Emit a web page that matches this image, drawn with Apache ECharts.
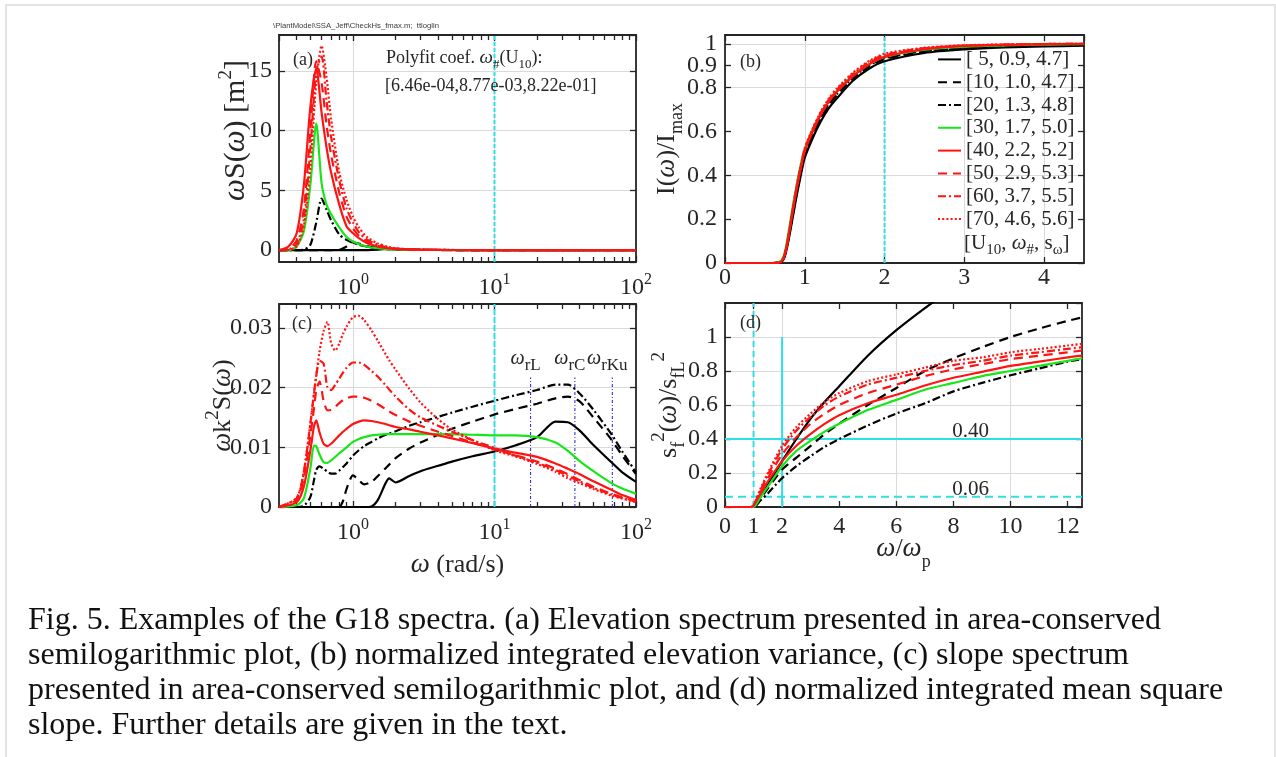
<!DOCTYPE html>
<html>
<head>
<meta charset="utf-8">
<script src="https://cdn.jsdelivr.net/npm/echarts@6.0.0/dist/echarts.min.js"></script>
<style>
  html, body { margin: 0; padding: 0; background: #ffffff; }
  #chart { width: 1276px; height: 757px; }
</style>
</head>
<body>
<div id="chart"></div>
<script>
// ---------- wind cases [U10, omega#, s_omega] ----------
const CASES = ['[ 5, 0.9, 4.7]', '[10, 1.0, 4.7]', '[20, 1.3, 4.8]', '[30, 1.7, 5.0]',
               '[40, 2.2, 5.2]', '[50, 2.9, 5.3]', '[60, 3.7, 5.5]', '[70, 4.6, 5.6]'];

// ---------- (a) elevation spectrum  omega*S(omega) [m^2] ----------
const A_W   = [0.3, 0.35, 0.4, 0.45, 0.5, 0.55, 0.6, 0.65, 0.7, 0.8, 0.9, 1.0, 1.1, 1.25, 1.5, 1.75, 2, 2.5, 3, 4, 6, 10, 100];
const A_U5  = [0, 0, 0, 0, 0, 0, 0, 0, 0, 0, 0, 0, 0, 0, 0.03, 0.12, 0.1, 0.05, 0.025, 0.01, 0.002, 0, 0];
const A_U10 = [0, 0, 0, 0, 0, 0, 0, 0, 0, 0.02, 0.3, 0.62, 0.55, 0.33, 0.15, 0.07, 0.04, 0.015, 0.007, 0.002, 0, 0, 0];
const A_U20 = [0, 0, 0, 0.03, 0.45, 2.3, 4.3, 3.4, 2.5, 1.3, 0.85, 0.6, 0.45, 0.3, 0.16, 0.09, 0.05, 0.02, 0.01, 0.004, 0.001, 0, 0];
const A_U30 = [0, 0, 0.3, 1.6, 5.5, 10.6, 5.6, 3.8, 3.0, 1.9, 1.1, 0.72, 0.5, 0.3, 0.15, 0.08, 0.05, 0.02, 0.01, 0.003, 0, 0, 0];
const A_U40 = [0, 0.3, 1.4, 5.5, 12, 15.2, 11.5, 8.6, 6.5, 3.8, 2.0, 1.4, 1.0, 0.6, 0.3, 0.15, 0.09, 0.04, 0.02, 0.008, 0.002, 0, 0];
const A_U50 = [0, 0.1, 0.8, 3.5, 10, 15.8, 14, 10.5, 8, 4.8, 2.8, 1.8, 1.2, 0.75, 0.35, 0.18, 0.1, 0.05, 0.025, 0.01, 0.003, 0.001, 0];
const A_U60 = [0, 0.05, 0.5, 2.6, 8.5, 15, 16.2, 12.5, 9.5, 5.8, 3.5, 2.3, 1.5, 0.9, 0.45, 0.22, 0.12, 0.06, 0.03, 0.012, 0.003, 0.001, 0];
const A_U70 = [0, 0.02, 0.3, 2.0, 7, 14, 17.1, 14.5, 11, 6.5, 4.2, 2.8, 1.9, 1.1, 0.55, 0.28, 0.15, 0.07, 0.035, 0.014, 0.004, 0.001, 0];
const A_YLIM = [-1, 18];
const A_MARK = 10;

// ---------- (b) normalized integrated elevation variance ----------
const B_X   = [0, 0.6, 0.7, 0.75, 0.8, 0.85, 0.9, 0.95, 1.0, 1.1, 1.2, 1.3, 1.4, 1.6, 1.8, 2.0, 2.5, 3.0, 3.5, 4.0, 4.5];
const B_U5  = [0, 0, 0.003, 0.03, 0.11, 0.21, 0.31, 0.40, 0.48, 0.57, 0.645, 0.705, 0.75, 0.83, 0.885, 0.92, 0.958, 0.974, 0.983, 0.988, 0.991];
const B_U10 = [0, 0, 0.004, 0.035, 0.12, 0.22, 0.32, 0.41, 0.49, 0.585, 0.66, 0.72, 0.765, 0.84, 0.895, 0.93, 0.964, 0.979, 0.987, 0.992, 0.995];
const B_U20 = [0, 0, 0.004, 0.04, 0.125, 0.225, 0.325, 0.415, 0.495, 0.59, 0.665, 0.725, 0.77, 0.845, 0.9, 0.934, 0.967, 0.982, 0.989, 0.994, 0.996];
const B_U30 = [0, 0, 0.01, 0.05, 0.15, 0.26, 0.36, 0.45, 0.52, 0.61, 0.68, 0.74, 0.785, 0.855, 0.905, 0.94, 0.973, 0.987, 0.993, 0.996, 0.998];
const B_U40 = [0, 0, 0.005, 0.04, 0.13, 0.24, 0.34, 0.43, 0.51, 0.60, 0.675, 0.735, 0.78, 0.85, 0.905, 0.94, 0.975, 0.99, 0.995, 0.998, 1.0];
const B_U50 = [0, 0, 0.005, 0.04, 0.13, 0.24, 0.345, 0.435, 0.515, 0.605, 0.68, 0.74, 0.785, 0.857, 0.91, 0.945, 0.978, 0.991, 0.996, 0.998, 1.0];
const B_U60 = [0, 0, 0.005, 0.04, 0.13, 0.245, 0.35, 0.44, 0.52, 0.61, 0.685, 0.745, 0.79, 0.862, 0.915, 0.95, 0.98, 0.992, 0.996, 0.999, 1.0];
const B_U70 = [0, 0, 0.005, 0.04, 0.135, 0.25, 0.355, 0.445, 0.525, 0.615, 0.69, 0.75, 0.795, 0.867, 0.92, 0.955, 0.982, 0.993, 0.997, 0.999, 1.0];
const B_YLIM = [0, 1.04];
const B_YTICKS = [0, 0.2, 0.4, 0.6, 0.8, 0.9, 1];
const B_YTICKS_MAIN = [0, 0.2, 0.4, 0.6, 0.8, 1];
const B_YTICKS_EXTRA = [0.9];
const B_MARK = 2;

// ---------- (c) slope spectrum  omega*k^2*S(omega) ----------
const C_W   = [0.3, 0.4, 0.45, 0.5, 0.53, 0.55, 0.58, 0.62, 0.66, 0.7, 0.75, 0.8, 0.85, 0.9, 1.0, 1.1, 1.2, 1.35, 1.5, 1.7,
               1.8, 2.0, 2.5, 3, 4, 5, 7, 10, 14, 20, 27, 33, 40, 50, 67, 80, 100];
const C_U5  = [0, 0, 0, 0, 0, 0, 0, 0, 0, 0, 0, 0, 0, 0, 0, 0, 0, 0.0001, 0.0012, 0.0040,
               0.0048, 0.0041, 0.0052, 0.0060, 0.0069, 0.0076, 0.0085, 0.0093, 0.0103, 0.0117, 0.0143, 0.0142, 0.0128, 0.0104, 0.0075, 0.0058, 0.0042];
const C_U10 = [0, 0, 0, 0, 0, 0, 0, 0, 0, 0, 0, 0, 0.0010, 0.0030, 0.0053, 0.0045, 0.0038, 0.0042, 0.0052, 0.0065,
               0.0071, 0.0082, 0.0098, 0.0108, 0.0121, 0.0131, 0.0143, 0.0155, 0.0164, 0.0173, 0.0182, 0.0185, 0.0177, 0.0150, 0.0113, 0.0086, 0.0055];
const C_U20 = [0, 0, 0.0002, 0.0017, 0.0045, 0.0062, 0.0068, 0.0064, 0.0059, 0.0056, 0.0056, 0.0061, 0.0067, 0.0073, 0.0086, 0.0095, 0.0102, 0.0109, 0.0115, 0.0121,
               0.0123, 0.0127, 0.0136, 0.0142, 0.0151, 0.0158, 0.0168, 0.0178, 0.0187, 0.0196, 0.0205, 0.0205, 0.0190, 0.0163, 0.0122, 0.0093, 0.0058];
const C_U30 = [0, 0.0003, 0.0015, 0.0065, 0.0103, 0.0102, 0.0088, 0.0075, 0.0074, 0.0078, 0.0084, 0.0090, 0.0095, 0.0100, 0.0109, 0.0114, 0.0117, 0.0120, 0.0121, 0.0122,
               0.0122, 0.0122, 0.0122, 0.0122, 0.0122, 0.0122, 0.0121, 0.0120, 0.0120, 0.0117, 0.0108, 0.0094, 0.0077, 0.0060, 0.0040, 0.0031, 0.0022];
const C_U40 = [0, 0.0008, 0.0035, 0.0095, 0.0135, 0.0145, 0.0125, 0.0106, 0.0102, 0.0106, 0.0113, 0.0120, 0.0126, 0.0131, 0.0139, 0.0143, 0.0145, 0.0144, 0.0142, 0.0139,
               0.0137, 0.0134, 0.0130, 0.0126, 0.0120, 0.0115, 0.0107, 0.0098, 0.0091, 0.0084, 0.0073, 0.0064, 0.0055, 0.0043, 0.0029, 0.0020, 0.0012];
const C_U50 = [0, 0.0012, 0.0050, 0.0120, 0.0165, 0.0195, 0.0210, 0.0178, 0.0162, 0.0163, 0.0168, 0.0174, 0.0179, 0.0182, 0.0185, 0.0185, 0.0183, 0.0178, 0.0172, 0.0164,
               0.0160, 0.0154, 0.0143, 0.0136, 0.0126, 0.0119, 0.0108, 0.0097, 0.0087, 0.0076, 0.0064, 0.0055, 0.0045, 0.0034, 0.0022, 0.0016, 0.0010];
const C_U60 = [0, 0.0015, 0.0060, 0.0140, 0.0190, 0.0220, 0.0245, 0.0240, 0.0200, 0.0196, 0.0205, 0.0215, 0.0225, 0.0233, 0.0242, 0.0242, 0.0238, 0.0228, 0.0218, 0.0204,
               0.0197, 0.0185, 0.0163, 0.0150, 0.0136, 0.0126, 0.0112, 0.0099, 0.0086, 0.0074, 0.0062, 0.0052, 0.0043, 0.0032, 0.0021, 0.0015, 0.0009];
const C_U70 = [0, 0.0015, 0.0060, 0.0140, 0.0190, 0.0220, 0.0260, 0.0295, 0.0310, 0.0275, 0.0262, 0.0274, 0.0290, 0.0302, 0.0318, 0.0320, 0.0313, 0.0296, 0.0278, 0.0256,
               0.0246, 0.0230, 0.0198, 0.0175, 0.0147, 0.0130, 0.0112, 0.0095, 0.0085, 0.0072, 0.0059, 0.0048, 0.0040, 0.0030, 0.0019, 0.0014, 0.0008];
const C_YLIM = [0, 0.034];
const C_MARK = 10;
const C_RES = [18, 37, 68];            // radar frequencies omega_rL, omega_rC, omega_rKu
const C_RES_NAMES = ['rL', 'rC', 'rKu'];
const C_RES_TOP = 0.0217;

// ---------- (d) normalized integrated mean square slope ----------
const D_X   = [0, 0.9, 1.0, 1.25, 1.5, 2, 2.5, 3, 3.5, 4, 5, 6, 7, 8, 9, 10, 11, 12, 12.5];
const D_U5  = [0, 0, 0, 0.06, 0.13, 0.27, 0.40, 0.52, 0.62, 0.71, 0.89, 1.04, 1.17, 1.29, null, null, null, null, null];
const D_U10 = [0, 0, 0, 0.05, 0.11, 0.22, 0.29, 0.36, 0.43, 0.49, 0.60, 0.70, 0.80, 0.875, 0.94, 1.0, 1.05, 1.095, 1.115];
const D_U20 = [0, 0, 0, 0.04, 0.08, 0.17, 0.24, 0.30, 0.355, 0.40, 0.48, 0.55, 0.61, 0.68, 0.73, 0.775, 0.815, 0.855, 0.87];
const D_U30 = [0, 0, 0, 0.06, 0.12, 0.24, 0.33, 0.39, 0.445, 0.49, 0.57, 0.63, 0.69, 0.73, 0.77, 0.80, 0.83, 0.86, 0.875];
const D_U40 = [0, 0, 0.01, 0.08, 0.15, 0.27, 0.36, 0.43, 0.49, 0.54, 0.61, 0.66, 0.715, 0.76, 0.795, 0.83, 0.855, 0.88, 0.89];
const D_U50 = [0, 0, 0.01, 0.09, 0.17, 0.31, 0.41, 0.49, 0.55, 0.60, 0.67, 0.72, 0.77, 0.81, 0.84, 0.87, 0.89, 0.91, 0.92];
const D_U60 = [0, 0, 0.01, 0.10, 0.19, 0.34, 0.45, 0.53, 0.60, 0.65, 0.72, 0.76, 0.80, 0.835, 0.86, 0.89, 0.91, 0.93, 0.94];
const D_U70 = [0, 0, 0.01, 0.11, 0.20, 0.36, 0.47, 0.55, 0.62, 0.67, 0.74, 0.78, 0.82, 0.86, 0.88, 0.91, 0.93, 0.95, 0.96];
const D_XLIM = [0, 12.5];
const D_YLIM = [0, 1.2];
const D_XTICKS = [0, 1, 2, 4, 6, 8, 10, 12];
const D_VDASH = 1;      // omega/omega_p = 1
const D_VSOLID = 2;     // omega/omega_p = 2
const D_VSOLID_TOP = 1.0;
const D_LEVELS = [0.40, 0.06];

const LOG_MINOR = [0.4, 0.5, 0.6, 0.7, 0.8, 0.9, 2, 3, 4, 5, 6, 7, 8, 9, 20, 30, 40, 50, 60, 70, 80, 90];

const CAPTION = [
  'Fig. 5. Examples of the G18 spectra. (a) Elevation spectrum presented in area-conserved',
  'semilogarithmic plot, (b) normalized integrated elevation variance, (c) slope spectrum',
  'presented in area-conserved semilogarithmic plot, and (d) normalized integrated mean square',
  'slope. Further details are given in the text.'
];

// ---------- styling ----------
const FONT = '"Liberation Serif", "Times New Roman", Times, serif';
const INK = '#262626';
const GRIDC = '#dadada';
const NONE = 'rgba(0,0,0,0)';
const RED = '#ff1414';
const GREEN = '#18e618';
const CYAN = '#2ddfe6';
const BLUE = '#2020c8';
const STYLES = [
  { color: '#000000', type: 'solid' },
  { color: '#000000', type: [9, 6] },
  { color: '#000000', type: [8, 3, 2, 3] },
  { color: GREEN, type: 'solid' },
  { color: RED, type: 'solid' },
  { color: RED, type: [9, 6] },
  { color: RED, type: [8, 3, 2, 3] },
  { color: RED, type: [2, 2.2] }
];

const GRIDS = [
  { left: 279, top: 35, width: 357, height: 227 },
  { left: 725, top: 35, width: 359, height: 228 },
  { left: 279, top: 304, width: 357, height: 203 },
  { left: 725, top: 303, width: 357, height: 204 }
];

const TICK_FONT = { fontFamily: FONT, fontSize: 24, color: INK };

function nameStyle(size, extra) {
  return Object.assign({
    fontFamily: FONT, fontSize: size, color: INK, lineHeight: 38,
    rich: {
      i:   { fontFamily: FONT, fontSize: size + 1, fontStyle: 'italic', color: INK },
      sub: { fontFamily: FONT, fontSize: 18, color: INK, lineHeight: 16, verticalAlign: 'bottom' },
      sup: { fontFamily: FONT, fontSize: 19, color: INK, lineHeight: 16, verticalAlign: 'top' }
    }
  }, extra || {});
}

const LOG_RICH = {
  b: { fontFamily: FONT, fontSize: 24, color: INK, lineHeight: 24, verticalAlign: 'bottom' },
  s: { fontFamily: FONT, fontSize: 16, color: INK, lineHeight: 28, verticalAlign: 'top' }
};
function logLabel(v) {
  const e = Math.round(Math.log10(v));
  return Math.abs(v / Math.pow(10, e) - 1) < 1e-6 ? '{b|10}{s|' + e + '}' : '';
}

function axis(gridIndex, position, extra) {
  return Object.assign({
    gridIndex: gridIndex,
    position: position,
    nameMoveOverlap: false,
    axisLine: { show: true, onZero: false, lineStyle: { color: INK, width: 1.8 } },
    axisTick: { show: true, inside: true, length: 6, lineStyle: { color: INK, width: 1.3 } },
    axisLabel: { show: false },
    splitLine: { show: false },
    minorTick: { show: false },
    minorSplitLine: { show: false }
  }, extra);
}

function logAxes(gridIndex, withName) {
  const common = { type: 'log', logBase: 10, min: 0.3, max: 100 };
  const minorTick = { show: true, inside: true, length: 5, customValues: LOG_MINOR, lineStyle: { color: INK, width: 1.3 } };
  const main = axis(gridIndex, 'bottom', Object.assign({}, common, {
    axisLabel: { show: true, formatter: logLabel, rich: LOG_RICH, margin: 9.5, showMinLabel: false, fontFamily: FONT },
    splitLine: { show: true, lineStyle: { color: GRIDC, width: 1 } }
  }, withName || {}));
  return [
    main,
    axis(gridIndex, 'bottom', Object.assign({}, common, { axisLine: { show: false, onZero: false }, axisTick: minorTick })),
    axis(gridIndex, 'top', Object.assign({}, common)),
    axis(gridIndex, 'top', Object.assign({}, common, { axisLine: { show: false, onZero: false }, axisTick: minorTick }))
  ];
}

const xAxes = [].concat(
  logAxes(0),                                                         // 0-3  (a)
  [
    axis(1, 'bottom', { type: 'value', min: 0, max: 4.5, interval: 1,  // 4 (b)
      axisLabel: Object.assign({ show: true, margin: 3, showMaxLabel: false }, TICK_FONT),
      splitLine: { show: true, lineStyle: { color: GRIDC, width: 1 } } }),
    axis(1, 'top', { type: 'value', min: 0, max: 4.5, interval: 1 })   // 5
  ],
  logAxes(2, {                                                        // 6-9  (c)
    name: '{i|ω} (rad/s)', nameLocation: 'middle', nameGap: 39, nameTextStyle: nameStyle(26)
  }),
  [
    axis(3, 'bottom', { type: 'value', min: D_XLIM[0], max: D_XLIM[1], interval: 1,   // 10 (d)
      axisLabel: Object.assign({ show: true, margin: 8, customValues: D_XTICKS }, TICK_FONT),
      axisTick: { show: true, inside: true, length: 6, customValues: D_XTICKS, lineStyle: { color: INK, width: 1.3 } },
      splitLine: { show: true, lineStyle: { color: [GRIDC, GRIDC, GRIDC, NONE, GRIDC, NONE, GRIDC, NONE, GRIDC, NONE, GRIDC, NONE, GRIDC, NONE], width: 1 } },
      name: '{i|ω}/{i|ω}{sub|p}', nameLocation: 'middle', nameGap: 20,
      nameTextStyle: nameStyle(26, { lineHeight: 44 }) }),
    axis(3, 'top', { type: 'value', min: D_XLIM[0], max: D_XLIM[1], interval: 1,      // 11
      axisTick: { show: true, inside: true, length: 6, customValues: D_XTICKS, lineStyle: { color: INK, width: 1.3 } } })
  ]
);

const yAxes = [
  axis(0, 'left', { type: 'value', min: A_YLIM[0], max: A_YLIM[1], splitNumber: 4,                // 0 (a)
    axisLabel: Object.assign({ show: true, margin: 7, showMinLabel: false, showMaxLabel: false }, TICK_FONT),
    splitLine: { show: true, lineStyle: { color: GRIDC, width: 1 } },
    name: '{i|ω}S({i|ω}) [m{sup|2}]', nameLocation: 'middle', nameRotate: 90, nameGap: 24,
    nameTextStyle: nameStyle(30, { padding: [0, 0, 0, 36] }) }),
  axis(0, 'right', { type: 'value', min: A_YLIM[0], max: A_YLIM[1], splitNumber: 4 }),            // 1
  axis(1, 'left', { type: 'value', min: B_YLIM[0], max: B_YLIM[1], interval: 0.1,                  // 2 (b)
    axisLabel: Object.assign({ show: true, margin: 8, customValues: B_YTICKS_MAIN, showMaxLabel: true, showMinLabel: true }, TICK_FONT),
    axisTick: { show: true, inside: true, length: 6, customValues: B_YTICKS, lineStyle: { color: INK, width: 1.3 } },
    splitLine: { show: true, lineStyle: { color: [GRIDC, NONE, GRIDC, NONE, GRIDC, NONE, GRIDC, NONE, GRIDC, GRIDC, GRIDC, NONE], width: 1 } },
    name: 'I({i|ω})/I{sub|max}', nameLocation: 'middle', nameRotate: 90, nameGap: 39, nameTextStyle: nameStyle(26) }),
  axis(1, 'right', { type: 'value', min: B_YLIM[0], max: B_YLIM[1], interval: 0.1,                 // 3
    axisTick: { show: true, inside: true, length: 6, customValues: B_YTICKS, lineStyle: { color: INK, width: 1.3 } } }),
  axis(2, 'left', { type: 'value', min: C_YLIM[0], max: C_YLIM[1], interval: 0.01,                 // 4 (c)
    axisLabel: Object.assign({ show: true, margin: 7, showMaxLabel: false }, TICK_FONT),
    splitLine: { show: true, lineStyle: { color: GRIDC, width: 1 } },
    name: '{i|ω}k{sup|2}S({i|ω})', nameLocation: 'middle', nameRotate: 90, nameGap: 37, nameTextStyle: nameStyle(26) }),
  axis(2, 'right', { type: 'value', min: C_YLIM[0], max: C_YLIM[1], interval: 0.01 }),             // 5
  axis(3, 'left', { type: 'value', min: D_YLIM[0], max: D_YLIM[1], interval: 0.2,                  // 6 (d)
    axisLabel: Object.assign({ show: true, margin: 7, showMaxLabel: false }, TICK_FONT),
    splitLine: { show: true, lineStyle: { color: GRIDC, width: 1 } },
    name: 's{sub|f}{sup|2}({i|ω})/s{sub|fL}{sup|2}', nameLocation: 'middle', nameRotate: 90, nameGap: 37, nameTextStyle: nameStyle(26) }),
  axis(3, 'right', { type: 'value', min: D_YLIM[0], max: D_YLIM[1], interval: 0.2 }),              // 7
  axis(1, 'left', { type: 'value', min: B_YLIM[0], max: B_YLIM[1], interval: 0.1,                  // 8 (b) label 0.9
    axisLine: { show: false, onZero: false }, axisTick: { show: false },
    axisLabel: Object.assign({ show: true, margin: 8, customValues: B_YTICKS_EXTRA }, TICK_FONT) })
];

// ---------- series ----------
function curves(xs, table, xi, yi) {
  return table.map(function (ys, k) {
    return {
      type: 'line', name: CASES[k], xAxisIndex: xi, yAxisIndex: yi,
      data: xs.map(function (x, j) { return [x, ys[j]]; }),
      symbol: 'none', showSymbol: false, smooth: 0.25, connectNulls: false,
      lineStyle: { color: STYLES[k].color, type: STYLES[k].type, width: 2.2 },
      itemStyle: { color: STYLES[k].color },
      z: 3, silent: true
    };
  });
}
function refLine(xi, yi, pts, color, type, width) {
  return {
    type: 'line', xAxisIndex: xi, yAxisIndex: yi, data: pts, symbol: 'none', silent: true,
    lineStyle: { color: color, type: type, width: width }, z: 2
  };
}

const series = [].concat(
  [refLine(0, 0, [[A_MARK, A_YLIM[0]], [A_MARK, A_YLIM[1]]], CYAN, [4, 2], 2)],
  [refLine(4, 2, [[B_MARK, B_YLIM[0]], [B_MARK, B_YLIM[1]]], CYAN, [4, 2], 2)],
  [refLine(6, 4, [[C_MARK, C_YLIM[0]], [C_MARK, C_YLIM[1]]], CYAN, [6, 2], 2)],
  C_RES.map(function (w) { return refLine(6, 4, [[w, 0], [w, C_RES_TOP]], BLUE, [3, 2, 1, 2], 1); }),
  [
    refLine(10, 6, [[D_VDASH, D_YLIM[0]], [D_VDASH, D_YLIM[1]]], CYAN, [6, 4], 2),
    refLine(10, 6, [[D_VSOLID, D_YLIM[0]], [D_VSOLID, D_VSOLID_TOP]], CYAN, 'solid', 2),
    refLine(10, 6, [[D_XLIM[0], D_LEVELS[0]], [D_XLIM[1], D_LEVELS[0]]], CYAN, 'solid', 2),
    refLine(10, 6, [[D_XLIM[0], D_LEVELS[1]], [D_XLIM[1], D_LEVELS[1]]], CYAN, [8, 5], 2)
  ],
  curves(A_W, [A_U5, A_U10, A_U20, A_U30, A_U40, A_U50, A_U60, A_U70], 0, 0),
  curves(B_X, [B_U5, B_U10, B_U20, B_U30, B_U40, B_U50, B_U60, B_U70], 4, 2),
  curves(C_W, [C_U5, C_U10, C_U20, C_U30, C_U40, C_U50, C_U60, C_U70], 6, 4),
  curves(D_X, [D_U5, D_U10, D_U20, D_U30, D_U40, D_U50, D_U60, D_U70], 10, 6),
  [
    { // radar frequency labels
      type: 'scatter', xAxisIndex: 6, yAxisIndex: 4, symbolSize: 0, silent: true, z: 4,
      itemStyle: { opacity: 1 },
      data: C_RES.map(function (w) { return [w, C_RES_TOP]; }),
      label: {
        show: true, position: 'top', distance: 3, offset: [-5, 0], lineHeight: 32, opacity: 1,
        formatter: function (p) { return '{w|ω}{s|' + C_RES_NAMES[p.dataIndex] + '}'; },
        rich: {
          w: { fontFamily: FONT, fontSize: 20, fontStyle: 'italic', color: INK },
          s: { fontFamily: FONT, fontSize: 17, color: INK, lineHeight: 14, verticalAlign: 'bottom' }
        }
      }
    },
    { // level labels in (d)
      type: 'scatter', xAxisIndex: 10, yAxisIndex: 6, symbolSize: 0, silent: true, z: 4,
      itemStyle: { opacity: 1 },
      data: D_LEVELS.map(function (v) { return [8.6, v]; }),
      label: {
        show: true, position: 'top', distance: -3, opacity: 1,
        fontFamily: FONT, fontSize: 21, color: INK,
        formatter: function (p) { return p.value[1].toFixed(2); }
      }
    }
  ]
);

// ---------- free text ----------
function txt(x, y, text, size, extra) {
  return {
    type: 'text', x: x, y: y, silent: true, z: 10,
    style: Object.assign({ text: text, fontFamily: FONT, fontSize: size, fill: INK, verticalAlign: 'middle', align: 'left' }, extra || {})
  };
}
const graphics = [
  { type: 'rect', silent: true, z: 0, shape: { x: 6, y: 5, width: 1269, height: 780 },
    style: { fill: NONE, stroke: '#e4e4e4', lineWidth: 2 } },
  txt(273, 26, '\\PlantModel\\SSA_Jeff\\CheckHs_fmax.m;  ttloglin', 7.7, { fontFamily: '"Liberation Sans", Arial, sans-serif', fill: '#3a3a3a' }),
  txt(293, 60, '(a)', 18),
  txt(740, 62, '(b)', 18),
  txt(292, 324, '(c)', 18),
  txt(740, 323, '(d)', 18),
  txt(386, 58, 'Polyfit coef. {i|ω}{s|#}(U{s|10}):', 18, {
    lineHeight: 26,
    rich: {
      i: { fontFamily: FONT, fontSize: 19, fontStyle: 'italic', fill: INK },
      s: { fontFamily: FONT, fontSize: 13, fill: INK, lineHeight: 12, verticalAlign: 'bottom' }
    }
  }),
  txt(385, 86, '[6.46e-04,8.77e-03,8.22e-01]', 18),
  txt(964, 243, '[U{s|10}, {i|ω}{s|#}, s{s|ω}]', 21, {
    lineHeight: 30,
    rich: {
      i: { fontFamily: FONT, fontSize: 21, fontStyle: 'italic', fill: INK },
      s: { fontFamily: FONT, fontSize: 15, fill: INK, lineHeight: 14, verticalAlign: 'bottom' }
    }
  })
].concat(CAPTION.map(function (line, i) { return txt(28, 621 + 35 * i, line, 32, { fill: '#111111' }); }));

const chart = echarts.init(document.getElementById('chart'), null, { renderer: 'canvas' });
chart.setOption({
  backgroundColor: '#ffffff',
  animation: false,
  textStyle: { fontFamily: FONT },
  grid: GRIDS.map(function (g) { return Object.assign({ containLabel: false }, g); }),
  xAxis: xAxes,
  yAxis: yAxes,
  legend: {
    data: CASES, orient: 'vertical', left: 937, top: 48, padding: 0,
    itemWidth: 23, itemHeight: 10, itemGap: 0,
    itemStyle: { opacity: 0 },
    textStyle: { fontFamily: FONT, fontSize: 21, color: INK, lineHeight: 22.8 },
    selectedMode: true
  },
  graphic: graphics,
  series: series
});
</script>
</body>
</html>
